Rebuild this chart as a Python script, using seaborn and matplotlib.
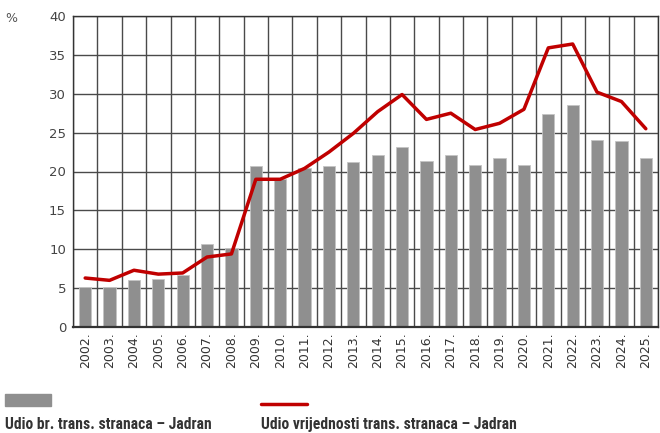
import numpy as np
import pandas as pd
import seaborn as sns
import matplotlib.pyplot as plt
from matplotlib import font_manager
from matplotlib.patches import Rectangle
from matplotlib.lines import Line2D

# Values
years = [f"{y}." for y in range(2002, 2026)]
share_count = [5.1, 5.2, 6.0, 6.2, 6.7, 10.7, 10.2, 20.7, 19.0, 20.4, 20.7, 21.2,
               22.1, 23.1, 21.4, 22.1, 20.9, 21.7, 20.9, 27.4, 28.6, 24.1, 23.9, 21.7]
share_value = [6.3, 6.0, 7.3, 6.8, 6.95, 9.0, 9.4, 19.0, 19.0, 20.4, 22.5, 24.9,
               27.7, 29.9, 26.7, 27.5, 25.4, 26.2, 28.0, 35.9, 36.4, 30.2, 29.0, 25.5]
label_count = "Udio br. trans. stranaca – Jadran"
label_value = "Udio vrijednosti trans. stranaca – Jadran"

df = pd.DataFrame({"year": years, "count": share_count, "value": share_value})

sns.set_theme(style="white")
plt.rcParams['font.family'] = ['DejaVu Sans']

# pick a narrow font for the legend if one is around
entries = font_manager.fontManager.ttflist
names = {f.name for f in entries}
leg_stretch = "normal"
leg_family = "Roboto"
for cand in ["Liberation Sans Narrow", "Roboto Condensed", "Open Sans Condensed"]:
    if cand in names:
        leg_family = cand
        break
else:
    if any(f.name == "DejaVu Sans" and str(f.stretch) in ("condensed", "semi-condensed")
           for f in entries):
        leg_family, leg_stretch = "DejaVu Sans", "condensed"

fig = plt.figure(figsize=(6.6, 4.33), dpi=100)
ax = fig.add_axes([73 / 660, 1 - 327 / 433, 585 / 660, 311 / 433])

grid_c = "#4a4a4a"
sns.barplot(data=df, x="year", y="count", color="#8f8f8f", saturation=1,
            width=0.5, edgecolor="#c4c4c4", linewidth=0.6, ax=ax, zorder=2)
sns.pointplot(data=df, x="year", y="value", color="#c00000", markers="",
              linewidth=2.5, errorbar=None, ax=ax, zorder=3)

ax.set_ylim(0, 40)
ax.set_xlim(-0.5, len(years) - 0.5)
ax.set_yticks(range(0, 41, 5))
ax.set_xlabel("")
ax.set_ylabel("")

# grid at category boundaries
for b in np.arange(-0.5, len(years), 1.0):
    ax.axvline(b, color=grid_c, lw=1.0, zorder=1)
for v in range(5, 41, 5):
    ax.axhline(v, color=grid_c, lw=1.0, zorder=1)

for s in ax.spines.values():
    s.set_color("#333333")
    s.set_linewidth(1.0)
ax.spines["bottom"].set_linewidth(1.6)

ax.tick_params(axis="x", length=0, pad=4, labelsize=9, labelcolor="#333333",
               rotation=90)
ax.tick_params(axis="y", length=0, pad=5, labelsize=9.5, labelcolor="#444444")

fig.text(5 / 660, 1 - 22 / 433, "%", fontsize=9, color="#555555")

# legend drawn below the chart
fig.patches.append(Rectangle((5 / 660, 1 - 406 / 433), 46 / 660, 12 / 433,
                             transform=fig.transFigure, color="#8f8f8f"))
fig.lines.append(Line2D([261 / 660, 307 / 660], [1 - 404 / 433] * 2,
                        transform=fig.transFigure, color="#c00000", lw=2.5))
t1 = fig.text(5 / 660, 1 - 429 / 433, label_count, family=leg_family,
              fontstretch=leg_stretch, fontsize=11.5, fontweight="bold",
              color="#333333", va="baseline")
t2 = fig.text(261 / 660, 1 - 429 / 433, label_value, family=leg_family,
              fontstretch=leg_stretch, fontsize=11.5, fontweight="bold",
              color="#333333", va="baseline")

# scale legend text so the first label spans about 207 px like the reference
renderer = fig.canvas.get_renderer()
w = t1.get_window_extent(renderer).width
size = 11.5 * 207 / w
t1.set_fontsize(size)
t2.set_fontsize(size)

fig.savefig("out.png", dpi=100)
